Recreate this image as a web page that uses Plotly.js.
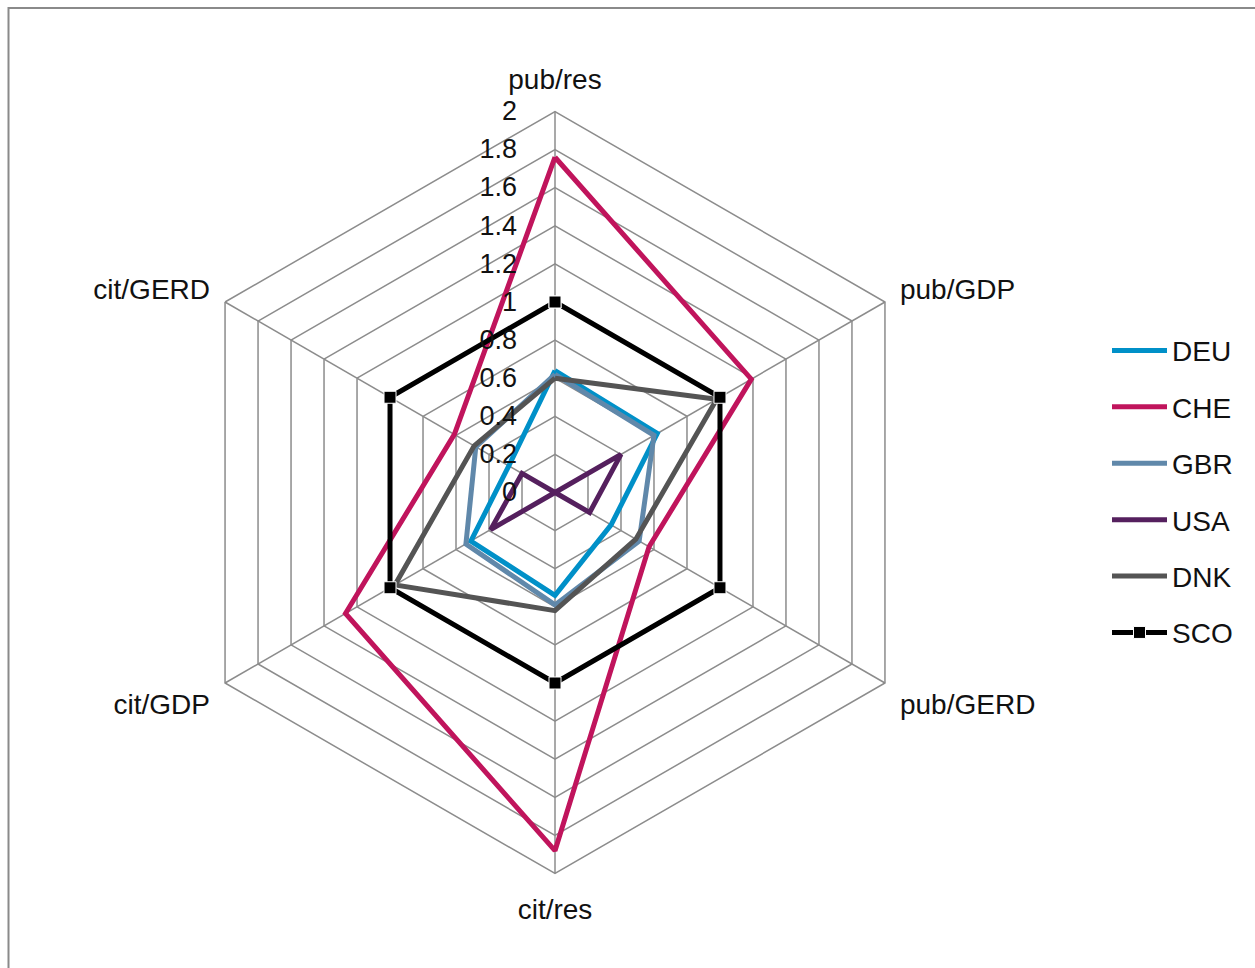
<!DOCTYPE html>
<html>
<head>
<meta charset="utf-8">
<script src="https://cdn.plot.ly/plotly-3.0.1.min.js"></script>
<style>
  html, body { margin: 0; padding: 0; background: #ffffff; }
  #chart { width: 1255px; height: 968px; }
</style>
</head>
<body>
<div id="chart"></div>
<script>
// Indicators around the radar, clockwise from the top
const indicators = ['pub/res', 'pub/GDP', 'pub/GERD', 'cit/res', 'cit/GDP', 'cit/GERD'];

// Relative scores per country (same order as indicators)
const DEU = [0.64, 0.62, 0.34, 0.54, 0.51, 0.28];
const CHE = [1.76, 1.19, 0.57, 1.88, 1.27, 0.61];
const GBR = [0.62, 0.60, 0.51, 0.59, 0.54, 0.48];
const USA = [0.00, 0.40, 0.21, 0.00, 0.39, 0.20];
const DNK = [0.60, 0.98, 0.49, 0.62, 0.97, 0.49];
const SCO = [1.00, 1.00, 1.00, 1.00, 1.00, 1.00];

const seriesNames = ['DEU', 'CHE', 'GBR', 'USA', 'DNK', 'SCO'];
const seriesValues = [DEU, CHE, GBR, USA, DNK, SCO];
const seriesColors = ['#0090c8', '#c0145c', '#6088aa', '#55205e', '#545454', '#000000'];

const FONT = 'Liberation Sans, Arial, sans-serif';

// close each polygon by repeating its first vertex
const closed = arr => arr.concat([arr[0]]);

const traces = seriesNames.map((name, i) => {
  const trace = {
    type: 'scatterpolar',
    name: name,
    r: closed(seriesValues[i]),
    theta: closed(indicators),
    mode: 'lines',
    line: { color: seriesColors[i], width: 5 },
    legendgroup: name,
    hoverinfo: 'name+r+theta'
  };
  if (name === 'SCO') {
    trace.mode = 'lines+markers';
    trace.marker = { symbol: 'square', size: 12, color: '#000000',
                     line: { color: '#ffffff', width: 1 } };
  }
  return trace;
});

const W = 1255, H = 968;
const cx = 555, cy = 492.5, R = 381;

const layout = {
  width: W,
  height: H,
  margin: { l: 0, r: 0, t: 0, b: 0 },
  paper_bgcolor: '#ffffff',
  font: { family: FONT, size: 28, color: '#111111' },
  showlegend: true,
  legend: {
    x: 1107 / W,
    y: 0.492,
    xanchor: 'left',
    yanchor: 'middle',
    traceorder: 'grouped',
    tracegroupgap: 17,
    itemwidth: 55,
    font: { family: FONT, size: 28, color: '#111111' },
    bgcolor: 'rgba(0,0,0,0)'
  },
  polar: {
    domain: {
      x: [(cx - R) / W, (cx + R) / W],
      y: [(H - cy - R) / H, (H - cy + R) / H]
    },
    bgcolor: '#ffffff',
    gridshape: 'linear',
    radialaxis: {
      range: [0, 2],
      tick0: 0,
      dtick: 0.2,
      angle: 90,
      side: 'counterclockwise',
      tickangle: 90,
      showline: false,
      ticks: 'outside',
      ticklen: 28,
      tickcolor: 'rgba(0,0,0,0)',
      gridcolor: '#8c8c8c',
      gridwidth: 1.5,
      tickfont: { family: FONT, size: 27, color: '#111111' }
    },
    angularaxis: {
      type: 'category',
      categoryorder: 'array',
      categoryarray: indicators,
      rotation: 90,
      direction: 'clockwise',
      showline: true,
      linecolor: '#8c8c8c',
      linewidth: 1.5,
      gridcolor: '#8c8c8c',
      gridwidth: 1.5,
      ticks: 'outside',
      ticklen: 11,
      tickcolor: 'rgba(0,0,0,0)',
      tickfont: { family: FONT, size: 28, color: '#111111' }
    }
  },
  shapes: [{
    type: 'rect',
    xref: 'paper', yref: 'paper',
    x0: 8.5 / W, x1: 1.05,
    y0: -0.05, y1: (H - 8) / H,
    line: { color: '#8a8a8a', width: 2 },
    fillcolor: 'rgba(0,0,0,0)',
    layer: 'below'
  }]
};

Plotly.newPlot('chart', traces, layout, { displayModeBar: false, staticPlot: true });
</script>
</body>
</html>
